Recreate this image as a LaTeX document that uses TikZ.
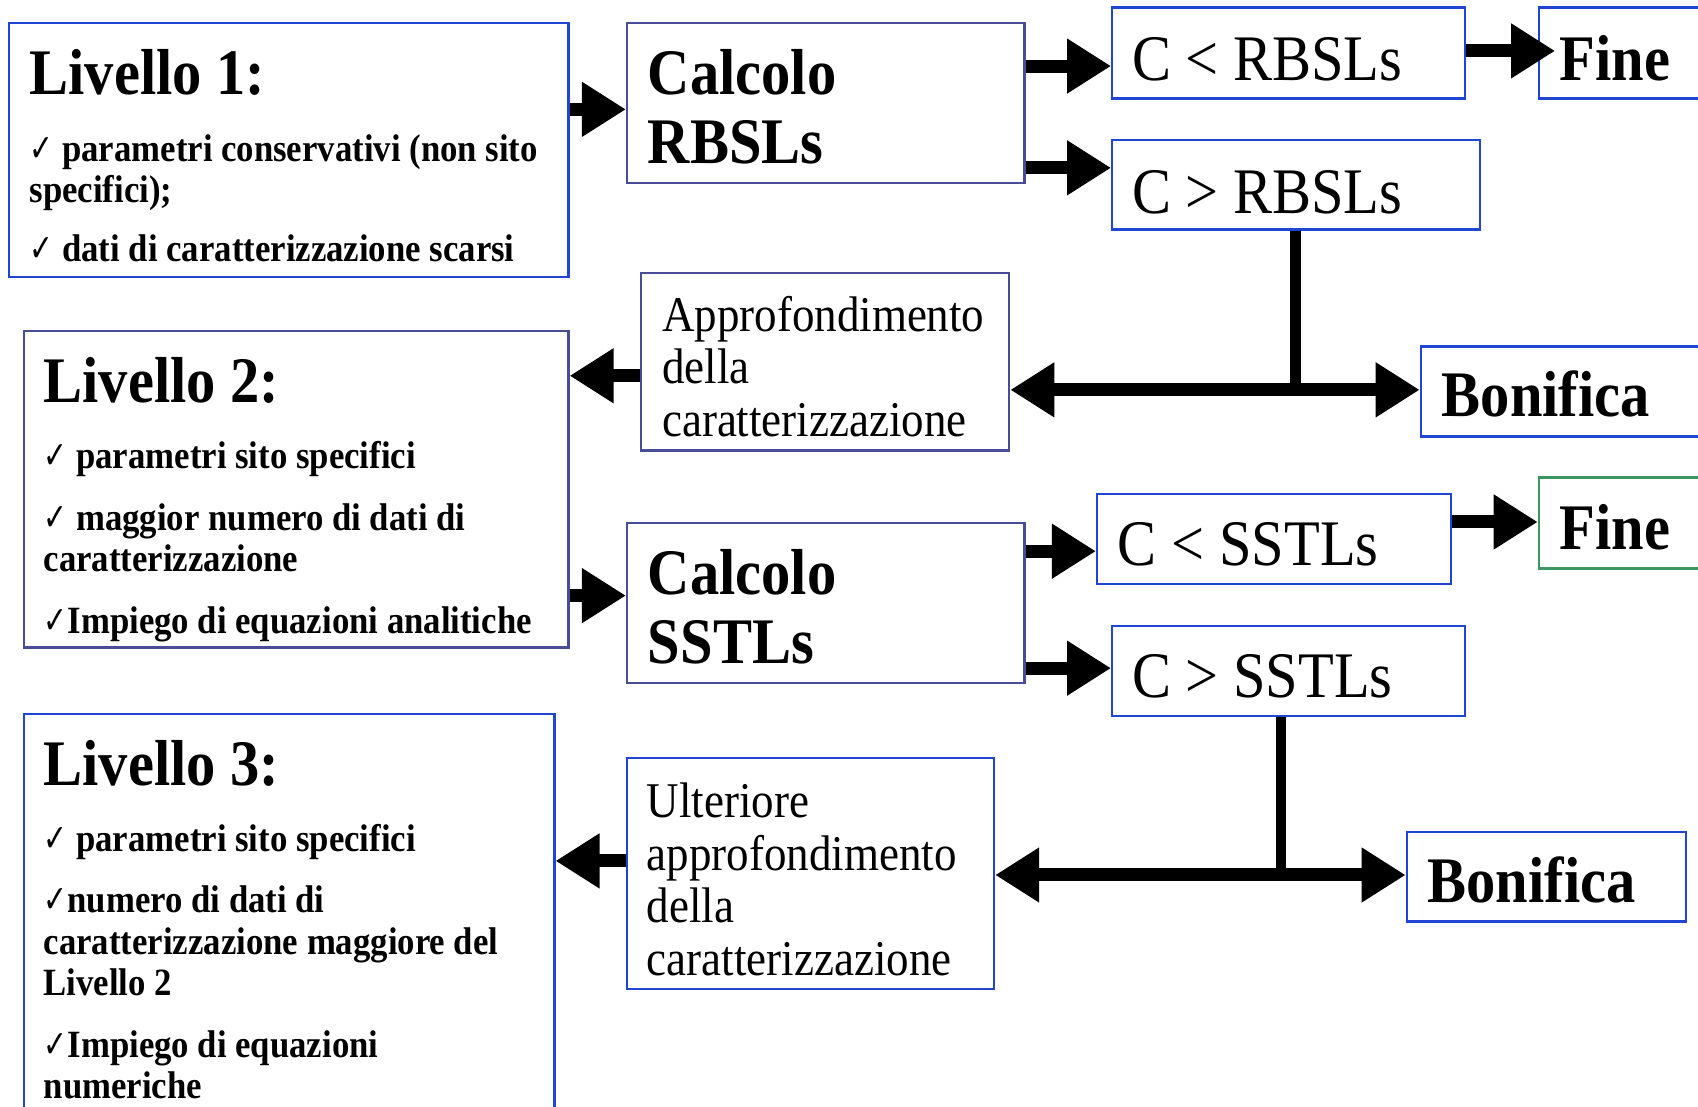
\documentclass[tikz,border=0pt]{standalone}
\usepackage{fontspec}
\setmainfont{Liberation Serif}[FakeStretch=0.9]
\newfontfamily\symf{DejaVu Sans}[FakeStretch=0.75]
\usetikzlibrary{arrows.meta,fit}
\definecolor{bluebox}{RGB}{30,70,210}
\definecolor{navybox}{RGB}{72,78,150}
\definecolor{greenbox}{RGB}{60,150,95}
\newcommand\chk{{\symf\fontsize{19pt}{19pt}\selectfont ✓}}
\newcommand\fBig{\bfseries\fontsize{32.5pt}{34.7pt}\selectfont}
\newcommand\fBigR{\fontsize{32.5pt}{34.7pt}\selectfont}
\newcommand\fMed{\fontsize{25pt}{26.3pt}\selectfont}
\newcommand\fSm{\bfseries\fontsize{19.3pt}{20.6pt}\selectfont}
\tikzset{
  boxb/.style={draw=bluebox, line width=1.1pt, inner sep=0pt, rectangle},
  boxn/.style={draw=navybox, line width=1.1pt, inner sep=0pt, rectangle},
  boxg/.style={draw=greenbox, line width=1.1pt, inner sep=0pt, rectangle},
  txt/.style={anchor=base west, inner sep=0pt},
  arr/.style={line width=6.5pt, -{Triangle[length=22pt,width=26pt]}},
  darr/.style={line width=6.5pt, {Triangle[length=22pt,width=26pt]}-{Triangle[length=22pt,width=26pt]}},
  vline/.style={line width=5.4pt}
}
\begin{document}
\begin{tikzpicture}[x=0.5415pt,y=-0.5415pt]
\useasboundingbox[fill=white] (0,0) rectangle (1568,1022);

% boxes
\node[boxb, fit={(8,21)(525,256)}] (l1) {};
\node[boxn, fit={(579,21)(946,169)}] (c1) {};
\node[boxb, fit={(1027,7)(1353,91)}] (clt1) {};
\node[boxb, fit={(1421,7)(1590,91)}] (fine1) {};
\node[boxb, fit={(1027,129)(1367,212)}] (cgt1) {};
\node[boxn, fit={(592,252)(932,416)}] (appr) {};
\node[boxn, fit={(22,306)(525,598)}] (l2) {};
\node[boxb, fit={(1312,320)(1590,403)}] (bon1) {};
\node[boxn, fit={(579,483)(946,631)}] (c2) {};
\node[boxb, fit={(1013,456)(1340,539)}] (clt2) {};
\node[boxg, fit={(1421,441)(1590,525)}] (fine2) {};
\node[boxb, fit={(1027,578)(1353,661)}] (cgt2) {};
\node[boxb, fit={(22,659)(512,1040)}] (l3) {};
\node[boxb, fit={(579,700)(918,913)}] (ult) {};
\node[boxb, fit={(1299,768)(1557,851)}] (bon2) {};

% texts
\node[txt] (l1h) at (27,87) {\fBig Livello 1:};
\node[txt] (l1t) at (27,149) {\fSm\vtop{\hbox{\chk\ parametri conservativi (non sito}\hbox{specifici);}\vskip9pt\hbox{\chk\ dati di caratterizzazione scarsi}}};
\node[txt] (c1t) at (598,87) {\fBig\vtop{\hbox{Calcolo}\hbox{RBSLs}}};
\node[txt] (clt1t) at (1045,74) {\fBigR C < RBSLs};
\node[txt] (fine1t) at (1440,74) {\fBig Fine};
\node[txt] (cgt1t) at (1045,197) {\fBigR C > RBSLs};
\node[txt] (apprt) at (611,306) {\fMed\vtop{\hbox{Approfondimento}\hbox{della}\hbox{caratterizzazione}}};
\node[txt] (bon1t) at (1331,385) {\fBig Bonifica};
\node[txt] (l2h) at (40,372) {\fBig Livello 2:};
\node[txt] (l2t) at (40,433) {\fSm\vtop{\hbox{\chk\ parametri sito specifici}\vskip10.3pt\hbox{\chk\ maggior numero di dati di}\hbox{caratterizzazione}\vskip10.3pt\hbox{\chk Impiego di equazioni analitiche}}};
\node[txt] (c2t) at (598,549) {\fBig\vtop{\hbox{Calcolo}\hbox{SSTLs}}};
\node[txt] (clt2t) at (1032,522) {\fBigR C < SSTLs};
\node[txt] (fine2t) at (1440,507) {\fBig Fine};
\node[txt] (cgt2t) at (1045,644) {\fBigR C > SSTLs};
\node[txt] (l3h) at (40,725) {\fBig Livello 3:};
\node[txt] (l3t) at (40,786) {\fSm\vtop{\hbox{\chk\ parametri sito specifici}\vskip10.3pt\hbox{\chk numero di dati di}\hbox{caratterizzazione maggiore del}\hbox{Livello 2}\vskip10.3pt\hbox{\chk Impiego di equazioni}\hbox{numeriche}}};
\node[txt] (ultt) at (597,755) {\fMed\vtop{\hbox{Ulteriore}\hbox{approfondimento}\hbox{della}\hbox{caratterizzazione}}};
\node[txt] (bon2t) at (1318,833) {\fBig Bonifica};

% junction coordinates
\coordinate (j1) at (1196,360);
\coordinate (j1b) at (1196,366);
\coordinate (j2) at (1183,808);
\coordinate (j2b) at (1183,814);
\coordinate (f1tip) at (1436,47);

% connectors
\draw[arr] (l1.east |- 0,101) -- (c1.west |- 0,101);
\draw[arr] (c1.east |- 0,61) -- (clt1.west |- 0,61);
\draw[arr] (c1.east |- 0,155) -- (cgt1.west |- 0,155);
\draw[arr] (clt1.east |- f1tip) -- (f1tip);
\draw[vline] (j1 |- cgt1.south) -- (j1b);
\draw[darr] (appr.east |- j1) -- (bon1.west |- j1);
\draw[arr] (appr.west |- 0,347) -- (l2.east |- 0,347);
\draw[arr] (l2.east |- 0,550) -- (c2.west |- 0,550);
\draw[arr] (c2.east |- 0,509) -- (clt2.west |- 0,509);
\draw[arr] (c2.east |- 0,617) -- (cgt2.west |- 0,617);
\draw[arr] (clt2.east |- 0,482) -- (fine2.west |- 0,482);
\draw[vline] (j2 |- cgt2.south) -- (j2b);
\draw[darr] (ult.east |- j2) -- (bon2.west |- j2);
\draw[arr] (ult.west |- 0,795) -- (l3.east |- 0,795);
\end{tikzpicture}
\end{document}
